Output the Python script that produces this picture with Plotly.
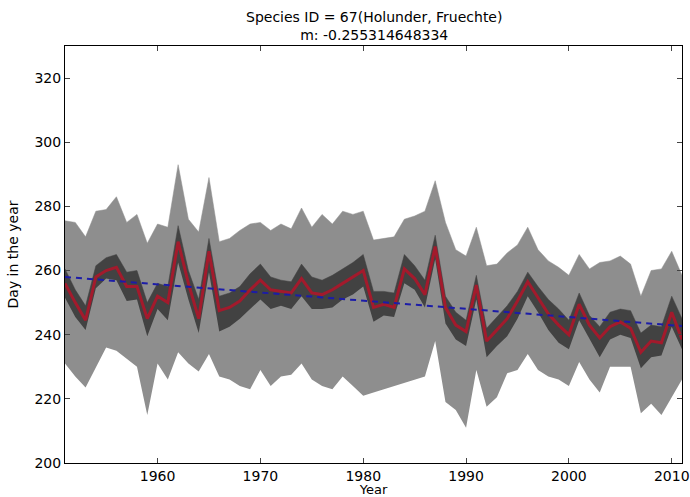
import plotly.graph_objects as go

years = list(range(1951, 2012))

mean_day = [256, 250, 244.5, 258, 260, 261, 255, 255, 245, 252,
            250, 269, 256, 245, 266, 247.5, 248.5, 250.5, 254, 257,
            254, 253.5, 253, 257.5, 253, 252.5, 254, 256, 258, 260,
            248.5, 249.5, 248.5, 260.5, 257.5, 252.5, 267.5, 248.5, 243, 241,
            255.5, 238, 241.5, 245, 250.5, 256.5, 251.5, 246.5, 243, 240,
            249.5, 243, 239, 242.5, 244, 242, 234.5, 238, 237.5, 247,
            238.5]

inner_upper = [260.5, 254, 249, 261.5, 264, 265, 259.5, 260, 250, 256,
               255, 274, 260, 251, 270, 252, 253, 255, 259, 262,
               258, 257, 256.5, 262, 258, 257, 258.5, 260.5, 262.5, 265,
               253.5, 253.5, 253, 265, 261.5, 257, 271, 252, 247, 244.5,
               258.5, 242, 245.5, 249, 253.5, 259.5, 255, 251, 248, 244.5,
               253, 246, 242.5, 247, 248, 247.5, 240.5, 243, 242.5, 252,
               245]

inner_lower = [251.5, 245.5, 241.5, 254.5, 257.5, 257, 250.5, 251, 239.5, 248,
               244.5, 262.5, 251, 240.5, 259.5, 241, 242.5, 245, 248, 251,
               248, 249, 248, 252, 248, 248, 248.5, 251, 252.5, 255,
               244, 246, 245.5, 256, 254, 248.5, 263.5, 243.5, 238.5, 236.5,
               251, 233, 236.5, 239.5, 245, 252, 247, 241.5, 237.5, 235.5,
               244.5, 238.5, 233, 238.5, 240, 239, 229.5, 233, 233.5, 242.5,
               235.5]

outer_upper = [275.5, 275, 270.5, 278.5, 279, 283, 275, 277.5, 268.5, 274.5,
               273.5, 293, 276, 272, 289, 269, 270, 272.5, 274.5, 275,
               272.5, 274.5, 273, 279.5, 273.5, 277.5, 274.5, 278.5, 277.5, 278.5,
               269.5, 270, 270.5, 276, 277, 278.5, 288, 275, 266.5, 264.5,
               273.5, 261.5, 262, 265.5, 268, 273.5, 266.5, 263, 261, 258.5,
               265, 260.5, 262.5, 263, 264.5, 262, 252, 260, 260.5, 266,
               258.5]

outer_lower = [231, 227, 223.5, 230, 236, 235, 232.5, 230, 215, 231,
               226, 234.5, 231, 228.5, 234, 227, 226, 224, 223, 229,
               224, 227, 227.5, 231, 226, 224, 223, 227, 224, 221,
               222, 223, 224, 225, 226, 227, 238, 219, 216.5, 211,
               229, 217.5, 220.5, 228, 229, 234, 229, 227, 226, 224,
               231.5, 226, 222, 230, 230, 230, 215.5, 218.5, 215, 220.5,
               226]

trend_years = [1951, 2011]
trend_values = [258.0, 242.7]

x_ticks = [1960, 1970, 1980, 1990, 2000, 2010]
y_ticks = [200, 220, 240, 260, 280, 300, 320]

title_line1 = "Species ID = 67(Holunder, Fruechte)"
title_line2 = "m: -0.255314648334"

fig = go.Figure()

fig.add_trace(go.Scatter(x=years, y=outer_lower, mode="lines",
                         line=dict(width=0, color="#8e8e8e"),
                         showlegend=False, hoverinfo="skip"))
fig.add_trace(go.Scatter(x=years, y=outer_upper, mode="lines",
                         line=dict(width=0.5, color="#8e8e8e"),
                         fill="tonexty", fillcolor="#8e8e8e",
                         showlegend=False))
fig.add_trace(go.Scatter(x=years, y=inner_lower, mode="lines",
                         line=dict(width=0, color="#424242"),
                         showlegend=False, hoverinfo="skip"))
fig.add_trace(go.Scatter(x=years, y=inner_upper, mode="lines",
                         line=dict(width=0.5, color="#424242"),
                         fill="tonexty", fillcolor="#424242",
                         showlegend=False))
fig.add_trace(go.Scatter(x=years, y=mean_day, mode="lines",
                         line=dict(width=3, color="#a31a2c"),
                         showlegend=False))
fig.add_trace(go.Scatter(x=trend_years, y=trend_values, mode="lines",
                         line=dict(width=2, color="#1c1ca8", dash="6px,5px"),
                         showlegend=False))

tick_font = dict(family="DejaVu Sans", size=14, color="black")
label_font = dict(family="DejaVu Sans", size=14, color="black")

fig.update_layout(
    width=690, height=497,
    margin=dict(l=65, r=8, t=46, b=34),
    paper_bgcolor="white", plot_bgcolor="white",
    font=tick_font,
    annotations=[
        dict(text=title_line1 + "<br>" + title_line2, x=0.5, y=1.0,
             xref="paper", yref="paper", xanchor="center", yanchor="bottom",
             yshift=1, showarrow=False,
             font=dict(family="DejaVu Sans", size=14, color="black")),
    ],
)

fig.update_xaxes(
    range=[1951, 2011], tickvals=x_ticks, ticks="inside", ticklen=5,
    showline=True, linecolor="black", linewidth=1, mirror="ticks",
    showgrid=False, zeroline=False, tickfont=tick_font, automargin=False,
    title=dict(text="Year", font=dict(family="DejaVu Sans", size=13, color="black"),
               standoff=1),
)
fig.update_yaxes(
    range=[200, 330], tickvals=y_ticks, ticks="inside", ticklen=5,
    showline=True, linecolor="black", linewidth=1, mirror="ticks",
    showgrid=False, zeroline=False, tickfont=tick_font, automargin=False,
    title=dict(text="Day in the year", font=label_font, standoff=12),
)

fig.write_html("out.html", config={"displayModeBar": False},
               post_script="document.body.style.margin='0';")
